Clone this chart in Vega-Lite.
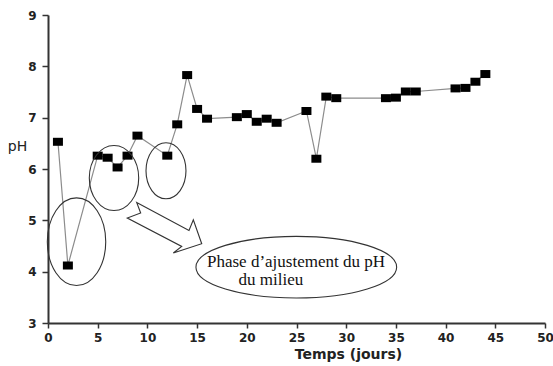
{
  "$schema": "https://vega.github.io/schema/vega-lite/v6.json",
  "width": 497,
  "height": 308,
  "autosize": {"type": "none"},
  "padding": {"left": 48, "top": 15, "right": 8, "bottom": 43},
  "background": "white",
  "config": {"view": {"stroke": null}},
  "datasets": {
    "ph": [
      {"jour": 1, "pH": 6.53}, {"jour": 2, "pH": 4.12}, {"jour": 5, "pH": 6.26},
      {"jour": 6, "pH": 6.22}, {"jour": 7, "pH": 6.03}, {"jour": 8, "pH": 6.26},
      {"jour": 9, "pH": 6.65}, {"jour": 12, "pH": 6.26}, {"jour": 13, "pH": 6.87},
      {"jour": 14, "pH": 7.83}, {"jour": 15, "pH": 7.17}, {"jour": 16, "pH": 6.98},
      {"jour": 19, "pH": 7.01}, {"jour": 20, "pH": 7.07}, {"jour": 21, "pH": 6.92},
      {"jour": 22, "pH": 6.98}, {"jour": 23, "pH": 6.90}, {"jour": 26, "pH": 7.13},
      {"jour": 27, "pH": 6.20}, {"jour": 28, "pH": 7.41}, {"jour": 29, "pH": 7.38},
      {"jour": 34, "pH": 7.38}, {"jour": 35, "pH": 7.39}, {"jour": 36, "pH": 7.51},
      {"jour": 37, "pH": 7.51}, {"jour": 41, "pH": 7.57}, {"jour": 42, "pH": 7.58},
      {"jour": 43, "pH": 7.70}, {"jour": 44, "pH": 7.85}
    ],
    "labels": [
      {"jour": 24.95, "pH": 4.09, "texte": "Phase d’ajustement du pH"},
      {"jour": 22.43, "pH": 3.75, "texte": "du milieu"}
    ]
  },
  "layer": [
    {
      "data": {"name": "ph"},
      "mark": {"type": "line", "color": "#8c8c8c", "strokeWidth": 1.2},
      "encoding": {
        "x": {
          "field": "jour", "type": "quantitative",
          "scale": {"domain": [0, 50], "nice": false, "zero": false},
          "axis": {
            "title": "Temps (jours)",
            "values": [0, 2.5, 5, 7.5, 10, 12.5, 15, 17.5, 20, 22.5, 25, 27.5, 30, 32.5, 35, 37.5, 40, 42.5, 45, 47.5, 50],
            "labelExpr": "datum.value % 5 === 0 ? datum.label : ''",
            "grid": false,
            "domainColor": "#333333", "domainWidth": 2,
            "tickColor": "#333333", "tickWidth": 1.5,
            "tickSize": {"condition": {"test": "datum.value % 5 === 0", "value": 5}, "value": -3},
            "labelPadding": 4,
            "labelFont": "DejaVu Sans", "labelFontWeight": "bold", "labelFontSize": 12, "labelColor": "#222222",
            "labelFlush": false,
            "titleFont": "DejaVu Sans", "titleFontWeight": "bold", "titleFontSize": 14, "titleColor": "#222222",
            "titleX": 300, "titleY": 35, "titleBaseline": "alphabetic", "titleAlign": "center"
          }
        },
        "y": {
          "field": "pH", "type": "quantitative",
          "scale": {"domain": [3, 9], "nice": false, "zero": false},
          "axis": {
            "title": "pH",
            "values": [3, 3.5, 4, 4.5, 5, 5.5, 6, 6.5, 7, 7.5, 8, 8.5, 9],
            "labelExpr": "datum.value % 1 === 0 ? datum.label : ''",
            "grid": false,
            "domainColor": "#333333", "domainWidth": 2,
            "tickColor": "#333333", "tickWidth": 1.5,
            "tickSize": {"condition": {"test": "datum.value % 1 === 0", "value": 6}, "value": 3},
            "labelPadding": 6,
            "labelFont": "DejaVu Sans", "labelFontWeight": "bold", "labelFontSize": 12, "labelColor": "#222222",
            "labelFlush": false,
            "titleFont": "DejaVu Sans", "titleFontWeight": "normal", "titleFontSize": 14, "titleColor": "#222222",
            "titleAngle": 0, "titleX": -31, "titleY": 131, "titleAlign": "center", "titleBaseline": "middle"
          }
        }
      }
    },
    {
      "data": {"name": "ph"},
      "mark": {"type": "point", "shape": "M -1 -0.8 L 1 -0.8 L 1 0.8 L -1 0.8 Z", "size": 100, "filled": true, "color": "#000000", "opacity": 1},
      "encoding": {
        "x": {"field": "jour", "type": "quantitative"},
        "y": {"field": "pH", "type": "quantitative"}
      }
    },
    {
      "data": {"values": [{"jour": 2.87, "pH": 4.584}]},
      "mark": {"type": "point", "shape": "M -0.666 0 A 0.666 1 0 1 0 0.666 0 A 0.666 1 0 1 0 -0.666 0 Z", "size": 7691, "filled": false, "stroke": "#333333", "strokeWidth": 1.1, "opacity": 1},
      "encoding": {
        "x": {"field": "jour", "type": "quantitative"},
        "y": {"field": "pH", "type": "quantitative"}
      }
    },
    {
      "data": {"values": [{"jour": 6.64, "pH": 5.825}]},
      "mark": {"type": "point", "shape": "M -0.76 0 A 0.76 1 0 1 0 0.76 0 A 0.76 1 0 1 0 -0.76 0 Z", "size": 4225, "filled": false, "stroke": "#333333", "strokeWidth": 1.1, "opacity": 1},
      "encoding": {
        "x": {"field": "jour", "type": "quantitative"},
        "y": {"field": "pH", "type": "quantitative"}
      }
    },
    {
      "data": {"values": [{"jour": 11.87, "pH": 5.965}]},
      "mark": {"type": "point", "shape": "M -0.714 0 A 0.714 1 0 1 0 0.714 0 A 0.714 1 0 1 0 -0.714 0 Z", "size": 3136, "filled": false, "stroke": "#333333", "strokeWidth": 1.1, "opacity": 1},
      "encoding": {
        "x": {"field": "jour", "type": "quantitative"},
        "y": {"field": "pH", "type": "quantitative"}
      }
    },
    {
      "data": {"values": [{"jour": 24.98, "pH": 4.088}]},
      "mark": {"type": "point", "shape": "M -1 0 A 1 0.307 0 1 0 1 0 A 1 0.307 0 1 0 -1 0 Z", "size": 40280, "filled": false, "stroke": "#333333", "strokeWidth": 1.1, "opacity": 1},
      "encoding": {
        "x": {"field": "jour", "type": "quantitative"},
        "y": {"field": "pH", "type": "quantitative"}
      }
    },
    {
      "data": {"values": [{"jour": 11.67, "pH": 4.856}]},
      "mark": {"type": "point", "shape": "M -0.683 -0.633 L 0.625 0.068 L 0.733 -0.2 L 0.943 0.4 L 0.233 0.633 L 0.443 0.468 L -0.918 -0.243 L -0.583 -0.368 Z", "size": 6400, "filled": false, "stroke": "#333333", "strokeWidth": 1.1, "opacity": 1},
      "encoding": {
        "x": {"field": "jour", "type": "quantitative"},
        "y": {"field": "pH", "type": "quantitative"}
      }
    },
    {
      "data": {"name": "labels"},
      "mark": {"type": "text", "font": "Liberation Serif", "fontSize": 17, "color": "#111111", "align": "center", "baseline": "alphabetic"},
      "encoding": {
        "x": {"field": "jour", "type": "quantitative"},
        "y": {"field": "pH", "type": "quantitative"},
        "text": {"field": "texte"}
      }
    }
  ]
}
